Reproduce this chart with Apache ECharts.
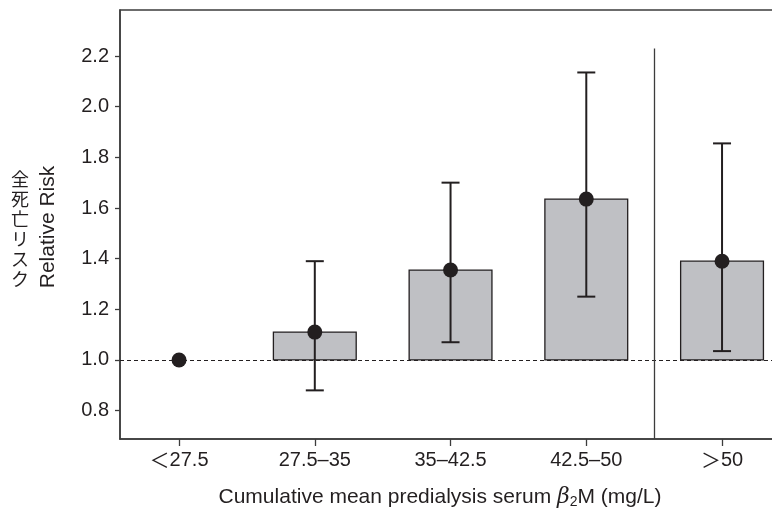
<!DOCTYPE html>
<html>
<head>
<meta charset="utf-8">
<script src="https://cdn.jsdelivr.net/npm/echarts@6/dist/echarts.min.js"></script>
<style>
  html, body { margin: 0; padding: 0; background: #fff; }
  #chart { width: 772px; height: 515px; }
</style>
</head>
<body>
<div id="chart"></div>
<script>
// data
const categories = ["{s|＜}27.5", "27.5–35", "35–42.5", "42.5–50", "{s|＞}50"];
const xPos = [1, 2, 3, 4, 5];
const relRisk = [1.0, 1.11, 1.355, 1.635, 1.39];
const ciLow = [null, 0.88, 1.07, 1.25, 1.035];
const ciHigh = [null, 1.39, 1.70, 2.135, 1.855];
const yTicks = [0.8, 1.0, 1.2, 1.4, 1.6, 1.8, 2.0, 2.2];

const ink = "#231f20";
const font = "'Liberation Sans', Arial, sans-serif";
const cjk = "'Noto Sans CJK JP', sans-serif";

const rows = xPos.map((x, i) => [x, relRisk[i], ciLow[i], ciHigh[i]]);

const chart = echarts.init(document.getElementById("chart"));

const option = {
  animation: false,
  grid: {
    left: 120, top: 10, width: 660, height: 429,
    outerBoundsMode: "none",
    show: true, borderColor: "#3c3c3c", borderWidth: 1.5,
  },
  xAxis: {
    type: "value",
    min: 0.565,
    max: 5.427,
    splitLine: { show: false },
    axisLine: { show: true, onZero: false, lineStyle: { color: "#3c3c3c", width: 1.5 } },
    axisTick: { show: true, length: 7, customValues: xPos, lineStyle: { color: "#3c3c3c", width: 1.3 } },
    axisLabel: {
      customValues: xPos,
      margin: 11,
      color: ink,
      fontFamily: font,
      fontSize: 20,
      formatter: (v) => categories[Math.round(v) - 1] || "",
      rich: {
        s: { fontFamily: cjk, fontSize: 20, color: ink },
      },
    },
  },
  yAxis: {
    type: "value",
    min: 0.688,
    max: 2.3816,
    splitLine: { show: false },
    axisLine: { show: true, onZero: false, lineStyle: { color: "#3c3c3c", width: 1.5 } },
    axisTick: { show: true, length: 5, customValues: yTicks, lineStyle: { color: "#3c3c3c", width: 1.3 } },
    axisLabel: {
      customValues: yTicks,
      margin: 11,
      color: ink,
      fontFamily: font,
      fontSize: 20,
      formatter: (v) => v.toFixed(1),
    },
  },
  series: [
    {
      // bars rising from RR = 1.0
      type: "custom",
      data: rows,
      z: 2,
      renderItem: (params, api) => {
        const x = api.value(0);
        const v = api.value(1);
        if (v === 1) return null;
        const p0 = api.coord([x - 0.305, 1.0]);
        const p1 = api.coord([x + 0.305, v]);
        return {
          type: "rect",
          shape: { x: p0[0], y: p1[1], width: p1[0] - p0[0], height: p0[1] - p1[1] },
          style: { fill: "#bfc0c4", stroke: ink, lineWidth: 1.3 },
        };
      },
      markLine: {
        silent: true,
        symbol: "none",
        label: { show: false },
        data: [
          [{ coord: [0.565, 1.0] }, { coord: [5.427, 1.0] }],
        ],
        lineStyle: { color: ink, width: 1, type: [4, 3] },
      },
    },
    {
      // separator before >50
      type: "line",
      data: [],
      markLine: {
        silent: true,
        symbol: "none",
        label: { show: false },
        data: [
          [{ coord: [4.5, 0.688] }, { coord: [4.5, 2.23] }],
        ],
        lineStyle: { color: "#3c3c3c", width: 1.3, type: "solid" },
      },
    },
    {
      // 95% CI whiskers
      type: "custom",
      data: rows,
      z: 3,
      renderItem: (params, api) => {
        const lo = api.value(2);
        const hi = api.value(3);
        if (lo == null || isNaN(lo)) return null;
        const x = api.value(0);
        const a = api.coord([x, lo]);
        const b = api.coord([x, hi]);
        const cap = 9;
        const st = { stroke: ink, lineWidth: 2 };
        return {
          type: "group",
          children: [
            { type: "line", shape: { x1: a[0], y1: a[1], x2: b[0], y2: b[1] }, style: st },
            { type: "line", shape: { x1: a[0] - cap, y1: a[1], x2: a[0] + cap, y2: a[1] }, style: st },
            { type: "line", shape: { x1: b[0] - cap, y1: b[1], x2: b[0] + cap, y2: b[1] }, style: st },
          ],
        };
      },
    },
    {
      type: "scatter",
      data: rows.map((r) => [r[0], r[1]]),
      symbol: "circle",
      symbolSize: 15,
      z: 4,
      itemStyle: { color: ink, opacity: 1 },
    },
  ],
  graphic: [
    {
      type: "text",
      x: 20, y: 229,
      style: {
        text: "全\n死\n亡\nリ\nス\nク",
        font: "18px " + cjk,
        lineHeight: 20,
        fill: ink,
        align: "center",
        verticalAlign: "middle",
      },
    },
    {
      type: "text",
      x: 48, y: 227,
      rotation: Math.PI / 2,
      style: {
        text: "Relative Risk",
        font: "21px " + font,
        fill: ink,
        align: "center",
        verticalAlign: "middle",
      },
    },
    {
      type: "text",
      x: 440, y: 497,
      style: {
        text: "{a|Cumulative mean predialysis serum }{b|β}{c|2}{a|M (mg/L)}",
        align: "center",
        verticalAlign: "middle",
        fill: ink,
        rich: {
          a: { fontFamily: font, fontSize: 21, fill: ink },
          b: { fontFamily: "'DejaVu Serif', serif", fontStyle: "italic", fontSize: 22, fill: ink },
          c: { fontFamily: font, fontSize: 14, fill: ink, verticalAlign: "bottom", padding: [10, 0, 0, 0] },
        },
      },
    },
  ],
};

chart.setOption(option);
</script>
</body>
</html>
